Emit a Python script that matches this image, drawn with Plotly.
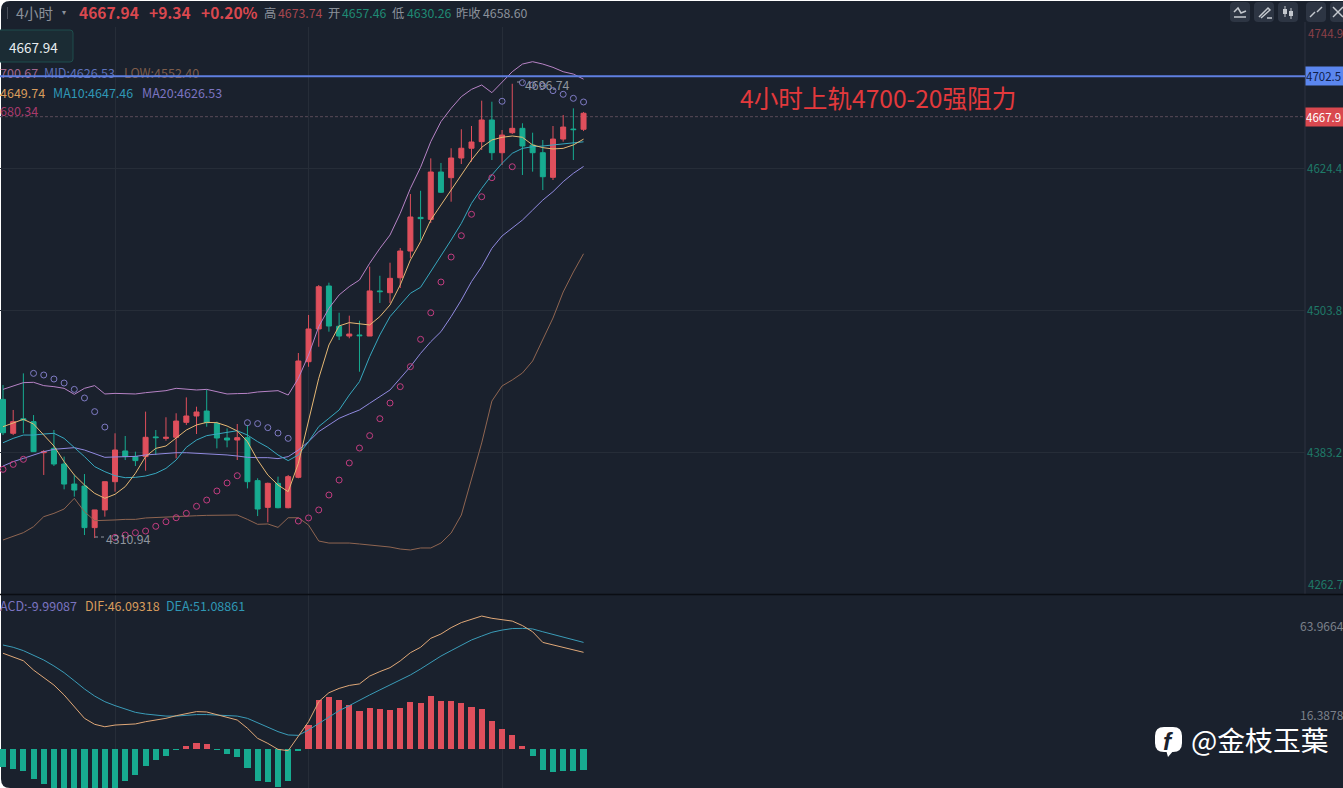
import plotly.graph_objects as go

W, H = 1343, 788
BG = "#1a212d"
RED = "#df4f5c"
GREEN = "#17ab90"
FONT = "Noto Sans CJK SC, Noto Sans, sans-serif"

opens = [4428.7,4399.9,4412.3,4409.8,4383.4,4387.1,4373.8,4356.8,4355.1,4319.8,4334.8,4358.8,4384.9,4380.1,4380.1,4396.8,4395.6,4396.5,4409.2,4414.6,4418.8,4408.4,4395.9,4394.2,4396.2,4359.7,4337.0,4357.4,4336.7,4362.5,
         4460.7,4488.5,4525.0,4490.8,4482.5,4483.4,4482.5,4520.8,4519.3,4532.0,4554.7,4583.3,4581.6,4621.8,4617.0,4633.7,4642.0,4647.6,4666.0,4638.2,4655.2,4658.9,4644.7,4638.2,4617.3,4649.8,4658.3,4658.1]
highs = [4440.9,4419.7,4450.8,4415.4,4385.7,4402.7,4380.1,4364.5,4365.3,4334.8,4358.8,4399.9,4397.6,4384.3,4418.3,4402.7,4413.5,4416.9,4430.4,4422.5,4437.2,4409.8,4404.1,4407.8,4407.0,4361.7,4358.0,4363.1,4364.5,4468.1,
         4500.4,4525.8,4527.8,4502.3,4499.8,4495.5,4541.4,4533.7,4544.8,4557.3,4603.1,4605.9,4633.4,4629.5,4642.0,4658.1,4660.9,4682.4,4681.5,4657.5,4696.74,4663.2,4655.2,4649.0,4660.9,4670.2,4675.9,4672.8]
lows = [4398.4,4398.4,4399.9,4384.3,4364.5,4372.1,4352.3,4346.1,4313.5,4310.94,4329.1,4350.3,4377.2,4372.1,4368.1,4381.5,4393.6,4378.6,4407.0,4399.3,4405.5,4387.1,4388.0,4377.2,4353.1,4329.6,4324.3,4336.2,4336.2,4361.7,
        4456.4,4473.4,4486.2,4479.1,4480.6,4452.2,4482.5,4510.6,4510.6,4523.3,4548.8,4564.1,4578.5,4604.0,4596.6,4628.6,4630.6,4640.5,4632.0,4627.8,4654.1,4619.3,4622.1,4606.5,4615.0,4647.6,4632.0,4656.6]
closes = [4400.4,4409.8,4411.2,4384.3,4384.3,4373.8,4356.8,4351.7,4319.8,4334.8,4358.8,4385.7,4380.1,4376.7,4396.5,4396.2,4396.5,4410.3,4414.6,4418.0,4408.9,4395.9,4394.2,4396.2,4358.8,4335.6,4357.4,4336.7,4363.1,4461.3,
          4488.5,4524.4,4491.0,4482.5,4484.2,4482.8,4520.8,4520.2,4531.5,4554.7,4583.6,4582.2,4621.8,4604.6,4633.7,4642.0,4647.3,4666.0,4638.2,4653.2,4658.9,4643.9,4638.2,4617.8,4649.8,4660.0,4657.8,4671.7]

ma5 = [4405.5,4408.4,4411.8,4407.8,4398.4,4389.1,4375.8,4364.5,4356.0,4348.9,4344.7,4348.1,4354.6,4365.9,4380.1,4387.1,4389.1,4395.6,4402.7,4407.0,4409.2,4408.9,4406.1,4401.9,4392.8,4377.2,4364.5,4356.0,4350.3,4374.4,
       4411.2,4446.6,4474.9,4491.1,4493.9,4492.8,4491.9,4499.0,4508.9,4525.9,4547.1,4562.6,4581.0,4593.8,4606.5,4619.3,4632.0,4642.8,4649.0,4651.3,4652.4,4651.3,4644.8,4642.5,4641.4,4641.9,4644.8,4649.74]
ma10 = [4391.9,4395.6,4398.4,4398.4,4399.3,4399.9,4395.6,4388.0,4380.1,4371.6,4367.3,4363.9,4362.2,4362.5,4363.6,4365.9,4370.1,4377.2,4388.0,4394.2,4397.9,4399.3,4400.7,4402.1,4398.4,4392.8,4388.0,4381.5,4376.7,4381.5,
        4392.8,4405.6,4412.6,4419.7,4432.4,4443.8,4465.0,4483.4,4499.0,4508.9,4518.8,4523.9,4537.2,4549.9,4564.1,4578.2,4595.2,4607.9,4619.3,4629.2,4637.7,4641.9,4643.3,4643.9,4644.8,4645.9,4646.8,4647.46]
ma20 = [4372.1,4375.8,4378.6,4381.5,4384.3,4386.3,4387.1,4387.7,4385.7,4382.9,4379.5,4379.8,4380.1,4380.3,4381.5,4382.3,4382.9,4383.4,4383.4,4382.9,4382.9,4382.0,4381.5,4380.6,4379.5,4379.2,4379.2,4378.4,4380.1,4385.7,
        4392.8,4401.3,4407.0,4412.6,4416.3,4419.7,4425.4,4431.0,4436.7,4446.6,4456.5,4467.8,4477.7,4486.2,4499.0,4513.1,4528.7,4541.4,4557.0,4567.5,4574.0,4581.0,4589.5,4598.0,4605.1,4613.6,4620.7,4626.53]
boll_up = [4437.2,4440.1,4442.9,4443.2,4440.4,4439.5,4438.1,4433.0,4438.1,4440.4,4433.3,4433.8,4433.8,4433.3,4434.4,4435.5,4436.1,4438.1,4437.5,4436.7,4437.2,4435.3,4433.3,4433.6,4433.8,4435.0,4435.3,4436.1,4432.4,4446.6,
           4466.4,4490.5,4506.1,4517.4,4524.5,4530.1,4544.3,4556.9,4568.3,4586.7,4607.9,4625.8,4647.6,4664.6,4675.9,4685.8,4692.0,4695.7,4689.2,4697.7,4707.0,4713.5,4715.5,4713.5,4710.7,4707.0,4705.0,4700.67]
boll_low = [4309.3,4312.1,4315.5,4320.6,4329.1,4331.9,4335.6,4344.7,4333.3,4325.7,4325.7,4326.3,4326.8,4326.8,4328.0,4328.5,4328.5,4329.1,4329.7,4329.9,4330.2,4330.2,4330.5,4330.5,4326.8,4322.6,4322.9,4320.0,4328.2,4328.2,
            4322.0,4308.4,4306.7,4306.7,4306.7,4305.9,4305.0,4304.2,4303.3,4301.6,4300.8,4302.5,4302.5,4306.7,4315.2,4330.5,4360.2,4391.7,4427.3,4440.1,4445.2,4451.1,4461.3,4479.1,4497.8,4519.9,4536.9,4552.40]
sar = [4369.3,4373.5,4377.8,4450.8,4449.4,4446.0,4442.6,4437.2,4429.9,4418.3,4405.2,4311.5,4313.5,4315.5,4316.9,4320.9,4324.8,4328.2,4331.9,4337.9,4343.2,4350.9,4357.7,4363.9,4408.9,4408.1,4404.7,4400.1,4395.6,4325.4,
       4328.0,4334.8,4347.5,4360.2,4374.7,4387.4,4397.9,4412.3,4425.6,4439.5,4456.5,4479.7,4502.3,4528.4,4549.6,4567.7,4585.9,4600.8,4617.0,4681.9,4626.3,4697.7,4695.7,4694.9,4690.9,4687.8,4684.4,4681.3]

macd = [-9.4,-10.7,-11.8,-16.0,-18.7,-21.4,-22.0,-23.0,-24.0,-24.0,-23.0,-22.0,-17.1,-13.9,-9.1,-5.9,-3.7,-0.4,1.6,3.0,2.7,-0.3,-2.7,-4.5,-10.0,-17.1,-17.5,-20.1,-16.9,-1.0,
        12.8,26.2,28.0,26.2,23.5,20.5,21.9,21.4,20.9,21.9,25.1,24.8,28.3,25.7,25.7,24.6,22.5,21.4,15.0,10.7,7.5,1.6,-3.7,-11.2,-12.1,-11.6,-11.6,-11.2]
dif = [51.2,49.4,47.2,42.2,38.3,34.2,28.9,22.6,16.4,13.2,11.9,12.8,13.2,13.4,14.6,15.5,16.4,17.8,19.1,20.0,19.8,18.5,16.9,15.5,11.1,5.7,3.0,-0.2,-0.9,6.6,
       14.6,25.3,30.1,32.4,34.0,34.8,39.0,41.4,43.5,47.1,51.5,54.4,59.2,61.5,64.9,67.6,69.3,71.1,69.9,69.0,68.4,66.0,62.7,57.0,55.6,54.4,52.8,51.7]
dea = [55.6,54.4,52.6,50.3,47.6,44.4,40.8,36.5,32.1,28.3,25.3,23.2,21.2,19.6,18.7,18.0,17.6,17.6,18.2,18.4,18.4,18.2,18.0,17.6,16.4,14.1,11.9,9.3,7.5,7.3,
       10.2,13.7,17.3,20.5,23.2,26.2,28.9,31.6,34.2,36.9,39.6,42.8,46.2,49.7,52.6,55.6,58.3,60.4,62.4,63.6,64.4,64.5,64.2,62.7,61.3,60.1,58.5,57.0]

price_ticks = [4624.4, 4503.8, 4383.2]
price_tick_labels = ["4624.4", "4503.8", "4383.2"]
macd_ticks = [63.9664, 16.3878]
macd_tick_labels = ["63.9664", "16.3878"]
time_ticks = [11, 30, 49]
resistance_level = 4703.2
resistance_label = "4702.5"
last_level = 4668.8
last_label = "4667.9"
note_text = "4小时上轨4700-20强阻力"

idx = list(range(len(closes)))
STEP, X0 = 10.185, 3.0
xmin, xmax = -X0 / STEP, (1305 - X0) / STEP


def px(x):
    return x / W


def py(y):
    return 1 - y / H


def bx(x):
    return (x - X0) / STEP


fig = go.Figure()
fig.add_trace(go.Candlestick(
    x=idx, open=opens, high=highs, low=lows, close=closes, xaxis="x", yaxis="y",
    increasing=dict(line=dict(color=RED, width=1), fillcolor=RED),
    decreasing=dict(line=dict(color=GREEN, width=1), fillcolor=GREEN),
    whiskerwidth=0, showlegend=False, hoverinfo="skip"))
for vals, col in [(boll_up, "#b783c6"), (boll_low, "#8f6551"), (ma20, "#918ae0"),
                  (ma10, "#37a8bf"), (ma5, "#e6b874")]:
    fig.add_trace(go.Scatter(x=idx, y=vals, mode="lines", line=dict(color=col, width=1),
                             xaxis="x", yaxis="y", showlegend=False, hoverinfo="skip"))
fig.add_trace(go.Scatter(
    x=idx, y=sar, mode="markers", xaxis="x", yaxis="y", showlegend=False, hoverinfo="skip",
    marker=dict(symbol="circle-open", size=6, line=dict(width=1),
                color=["#7f7bc4" if s > c else "#c23d80" for s, c in zip(sar, closes)])))

# text that sits underneath the blue level line
under = [(0, "700.67", "#a2688f"), (44, "MID:4626.53", "#5c70b8"), (124, "LOW:4552.40", "#7d5c4a")]
for xp, txt, col in under:
    fig.add_trace(go.Scatter(x=[bx(xp)], y=[4767.9 - 0.8493 * 75], mode="text", text=[txt],
                             textposition="middle right", cliponaxis=False,
                             textfont=dict(family=FONT, size=12.5, color=col),
                             xaxis="x", yaxis="y", showlegend=False, hoverinfo="skip"))
fig.add_trace(go.Scatter(x=[xmin, xmax], y=[resistance_level] * 2, mode="lines",
                         line=dict(color="#5f7fe0", width=2), xaxis="x", yaxis="y",
                         showlegend=False, hoverinfo="skip"))

fig.add_trace(go.Bar(x=idx, y=macd, width=0.6, xaxis="x2", yaxis="y2", showlegend=False,
                     marker=dict(color=[RED if m > 0 else GREEN for m in macd], line=dict(width=0)),
                     hoverinfo="skip"))
fig.add_trace(go.Scatter(x=idx, y=dea, mode="lines", line=dict(color="#3a9cb8", width=1),
                         xaxis="x2", yaxis="y2", showlegend=False, hoverinfo="skip"))
fig.add_trace(go.Scatter(x=idx, y=dif, mode="lines", line=dict(color="#e0a878", width=1),
                         xaxis="x2", yaxis="y2", showlegend=False, hoverinfo="skip"))

ann = []


def text(x, y, s, col, size=12, bold=False, anchor="left"):
    ann.append(dict(xref="paper", yref="paper", x=px(x - 2), y=py(y), text=f"<b>{s}</b>" if bold else s,
                    showarrow=False, xanchor=anchor, yanchor="middle", align="left",
                    font=dict(family=FONT, size=size, color=col)))


GREY = "#8b919b"
DIMRED = "#a8474f"
DIMGREEN = "#1f8a74"
text(16, 12, "4小时", GREY, 14.5)
text(62, 11, "▾", GREY, 8)
text(79, 12, "4667.94", "#d9484f", 15.5, True)
text(149, 12, "+9.34", "#d9484f", 15.5, True)
text(201, 12, "+0.20%", "#d9484f", 15.5, True)
text(264, 13, "高", GREY, 12.3)
text(278, 13, "4673.74", DIMRED, 12.3)
text(328, 13, "开", GREY, 12.3)
text(342, 13, "4657.46", DIMGREEN, 12.3)
text(392, 13, "低", GREY, 12.3)
text(407, 13, "4630.26", DIMGREEN, 12.3)
text(456, 13, "昨收", GREY, 12.3)
text(483, 13, "4658.60", GREY, 12.3)
text(9, 46.5, "4667.94", "#e8ecef", 13.5)
text(0, 92, "4649.74", "#d89c5c", 12.5)
text(53, 92, "MA10:4647.46", "#2f97b5", 12.5)
text(142, 92, "MA20:4626.53", "#7b74c0", 12.5)
text(0, 111, "680.34", "#a83a6c", 12.5)
text(106, 539, "4310.94", "#8f959e", 12.3)
text(525, 85, "4696.74", "#8f959e", 12.3)
text(740, 96.5, note_text, "#e3393c", 24.6)
text(1308, 33, "4744.9", "#8a4048", 11.5)
text(1308, 584, "4262.7", "#1f7a68", 11.5)
text(0, 605, "ACD:-9.99087", "#7b74c0", 12.5)
text(85, 605, "DIF:46.09318", "#d89c5c", 12.5)
text(166, 605, "DEA:51.08861", "#2f97b5", 12.5)
text(1191, 739, "@金枝玉葉", "#ffffff", 27.8)
ann.append(dict(xref="paper", yref="paper", x=px(1168), y=py(741), text="<b><i>f</i></b>", showarrow=False,
                font=dict(family="Liberation Sans", size=24, color=BG), xanchor="center", yanchor="middle"))
for lvl, lab, bgc, fc in [(resistance_level, resistance_label, "#5b86ee", "#10204a"),
                          (last_level, last_label, "#d9484f", "#ffffff")]:
    ann.append(dict(xref="paper", yref="y", x=px(1305), y=lvl, text=lab, showarrow=False, xanchor="left",
                    yanchor="middle", align="left", bgcolor=bgc, width=38, height=18, borderpad=0,
                    font=dict(family=FONT, size=11.5, color=fc)))


def rrect(x0, y0, x1, y1, r):
    return (f"M{px(x0+r)},{py(y0)} L{px(x1-r)},{py(y0)} Q{px(x1)},{py(y0)} {px(x1)},{py(y0+r)} "
            f"L{px(x1)},{py(y1-r)} Q{px(x1)},{py(y1)} {px(x1-r)},{py(y1)} L{px(x0+r)},{py(y1)} "
            f"Q{px(x0)},{py(y1)} {px(x0)},{py(y1-r)} L{px(x0)},{py(y0+r)} Q{px(x0)},{py(y0)} {px(x0+r)},{py(y0)} Z")


def poly(points, close=False):
    s = "M" + " L".join(f"{px(a)},{py(b)}" for a, b in points)
    return s + (" Z" if close else "")


shapes = [dict(type="path", xref="paper", yref="paper", path=rrect(1, 1, W + 10, H, 9), fillcolor=BG,
               line=dict(width=0), layer="below")]
shapes.append(dict(type="path", xref="paper", yref="paper", path=rrect(-12, 30, 73, 62, 3),
                   fillcolor="#1b2c34", line=dict(color="#1f4d4c", width=1), layer="below"))
shapes.append(dict(type="line", xref="paper", yref="paper", x0=px(1305), x1=px(1305), y0=py(22), y1=py(594),
                   line=dict(color="#2c3340", width=1), layer="below"))
shapes.append(dict(type="line", xref="paper", yref="paper", x0=px(7.5), x1=px(7.5), y0=py(7), y1=py(19),
                   line=dict(color="#4a505b", width=1), layer="below"))
shapes.append(dict(type="line", xref="paper", yref="paper", x0=0, x1=1, y0=py(594.5), y1=py(594.5),
                   line=dict(color="#0a0d13", width=1.5)))
shapes.append(dict(type="line", xref="x", yref="y", x0=xmin, x1=xmax, y0=last_level, y1=last_level,
                   line=dict(color="#5a4a58", width=1, dash="3px,2px"), layer="below"))
shapes.append(dict(type="line", xref="paper", yref="paper", x0=px(95), x1=px(105), y0=py(537), y1=py(537),
                   line=dict(color="#8f959e", width=1, dash="dot")))
shapes.append(dict(type="line", xref="paper", yref="paper", x0=px(517), x1=px(524), y0=py(82), y1=py(82),
                   line=dict(color="#8f959e", width=1, dash="dot")))
# toolbar buttons
for x0 in [1230, 1254, 1278, 1306, 1330]:
    shapes.append(dict(type="path", xref="paper", yref="paper", path=rrect(x0, 2, x0 + 20, 22, 4),
                       fillcolor="#2d3543", line=dict(width=0), layer="below"))
ICON = "#c4c8ce"
for pts in [[(1234, 12), (1238, 8), (1241, 13), (1246, 11)], [(1234, 17), (1246, 17)],
            [(1259, 17), (1268, 8), (1270, 10), (1261, 18)], [(1267, 18), (1272, 18)],
            [(1310, 17), (1315, 12)], [(1322, 7), (1317, 12)], [(1333, 7), (1343, 17)], [(1333, 17), (1343, 7)]]:
    shapes.append(dict(type="path", xref="paper", yref="paper", path=poly(pts),
                       line=dict(color=ICON, width=1.5)))
for xc, a, b, c, d in [(1285, 6, 9, 14, 17), (1291, 8, 11, 16, 19)]:
    shapes.append(dict(type="line", xref="paper", yref="paper", x0=px(xc), x1=px(xc), y0=py(a), y1=py(d),
                       line=dict(color=ICON, width=1)))
    shapes.append(dict(type="rect", xref="paper", yref="paper", x0=px(xc - 2), x1=px(xc + 2), y0=py(b), y1=py(c),
                       fillcolor=ICON, line=dict(width=0)))
# facebook style badge
shapes.append(dict(type="path", xref="paper", yref="paper", path=rrect(1155, 727, 1182, 752, 9),
                   fillcolor="#ffffff", line=dict(width=0)))
shapes.append(dict(type="path", xref="paper", yref="paper",
                   path=poly([(1166, 750), (1174, 750), (1168, 757)], True), fillcolor="#ffffff", line=dict(width=0)))

GRID = "#262d38"
fig.update_layout(
    width=W, height=H, margin=dict(l=0, r=0, t=0, b=0), paper_bgcolor="#ffffff", plot_bgcolor="rgba(0,0,0,0)",
    showlegend=False, annotations=ann, shapes=shapes, bargap=0,
    font=dict(family=FONT),
    xaxis=dict(domain=[0, 1305 / W], range=[xmin, xmax], anchor="y", tickvals=time_ticks, showticklabels=False,
               showgrid=True, gridcolor=GRID, gridwidth=1, zeroline=False, rangeslider=dict(visible=False),
               ticks="", showline=False),
    yaxis=dict(domain=[py(594), py(27)], range=[4767.9 - 0.8493 * 594, 4767.9 - 0.8493 * 27], side="right",
               anchor="x", tickmode="array", tickvals=price_ticks + [4744.9], ticktext=price_tick_labels + [""],
               tickfont=dict(family=FONT, size=11.5, color="#1f7a68"), showgrid=True, gridcolor=GRID,
               gridwidth=1, zeroline=False, ticks="", showline=False, ticklabelstandoff=1),
    xaxis2=dict(domain=[0, 1305 / W], range=[xmin, xmax], anchor="y2", tickvals=time_ticks, showticklabels=False,
                showgrid=True, gridcolor=GRID, gridwidth=1, zeroline=False, ticks="", showline=False),
    yaxis2=dict(domain=[0, py(595)], range=[(749 - 788) / 1.87, (749 - 595) / 1.87], side="right", anchor="x2",
                tickmode="array", tickvals=macd_ticks, ticktext=macd_tick_labels, showgrid=False, zeroline=False,
                tickfont=dict(family=FONT, size=12, color="#7a808a"), ticks="", showline=False,
                ticklabelstandoff=-6, ticklabelshift=-3),
)

fig.write_html("out.html", config=dict(displayModeBar=False),
               post_script="document.body.style.margin='0';document.documentElement.style.overflow='hidden';")
